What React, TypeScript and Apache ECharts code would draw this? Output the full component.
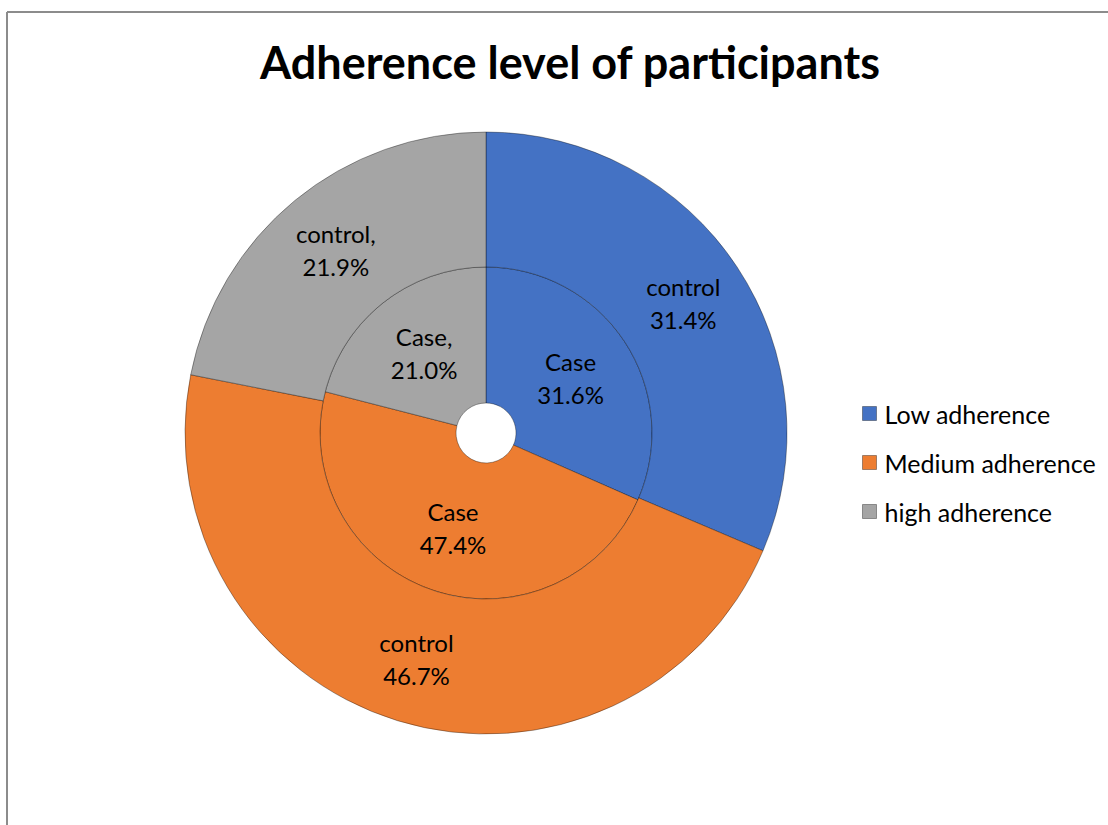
import React, { useEffect, useRef } from "react";
import * as echarts from "echarts";

const categories = ["Low adherence", "Medium adherence", "high adherence"];
const colors = ["#4472C4", "#ED7D31", "#A5A5A5"];
const caseValues = [31.6, 47.4, 21.0];
const controlValues = [31.4, 46.7, 21.9];
const caseSeparators = ["", "", ","];
const controlSeparators = ["", "", ","];
const titleText = "Adherence level of participants";

const FONT = "Lato";

function buildData(values: number[], seps: string[]) {
  return categories.map((name, i) => ({
    name,
    value: values[i],
    sep: seps[i],
    itemStyle: { color: colors[i] },
  }));
}

export default function App() {
  const ref = useRef<HTMLDivElement>(null);
  useEffect(() => {
    document.body.style.margin = "0";
    const chart = echarts.init(ref.current!, null, { renderer: "svg" });
    const mkLabel = (seriesLabel: string) => ({
      show: true,
      position: "inside",
      color: "#000",
      fontFamily: FONT,
      fontSize: 24,
      lineHeight: 33,
      formatter: (p: any) =>
        `${seriesLabel}${p.data.sep}\n${p.value.toFixed(1)}%`,
    });
    chart.setOption({
      animation: false,
      backgroundColor: "#fff",
      title: {
        text: titleText,
        left: 565,
        textAlign: "center",
        top: 34,
        textStyle: {
          fontFamily: FONT,
          fontWeight: "bold",
          fontSize: 45,
          color: "#000",
        },
      },
      legend: {
        orient: "vertical",
        left: 862,
        top: 401,
        padding: 0,
        itemWidth: 14,
        itemHeight: 14,
        itemGap: 24,
        icon: "rect",
        data: categories,
        textStyle: {
          fontFamily: FONT,
          fontSize: 25,
          color: "#000",
          padding: [0, 0, 0, 3],
        },
        itemStyle: { borderColor: "rgba(0,0,0,0.35)", borderWidth: 1 },
      },
      graphic: [
        {
          type: "line",
          shape: { x1: 7, y1: 12, x2: 1108, y2: 12 },
          style: { stroke: "#8c8c8c", lineWidth: 2 },
        },
        {
          type: "line",
          shape: { x1: 7, y1: 12, x2: 7, y2: 825 },
          style: { stroke: "#8c8c8c", lineWidth: 2 },
        },
      ],
      series: [
        {
          name: "Case",
          type: "pie",
          center: [486, 433],
          radius: [30, 166],
          startAngle: 90,
          clockwise: true,
          avoidLabelOverlap: false,
          itemStyle: { borderColor: "rgba(0,0,0,0.35)", borderWidth: 1 },
          label: mkLabel("Case"),
          labelLine: { show: false },
          emphasis: { disabled: true },
          data: buildData(caseValues, caseSeparators),
        },
        {
          name: "control",
          type: "pie",
          center: [486, 433],
          radius: [166, 301],
          startAngle: 90,
          clockwise: true,
          avoidLabelOverlap: false,
          itemStyle: { borderColor: "rgba(0,0,0,0.35)", borderWidth: 1 },
          label: mkLabel("control"),
          labelLine: { show: false },
          emphasis: { disabled: true },
          data: buildData(controlValues, controlSeparators),
        },
      ],
    });
    return () => chart.dispose();
  }, []);
  return (
    <div
      ref={ref}
      style={{ position: "fixed", left: 0, top: 0, width: 1108, height: 825 }}
    />
  );
}
